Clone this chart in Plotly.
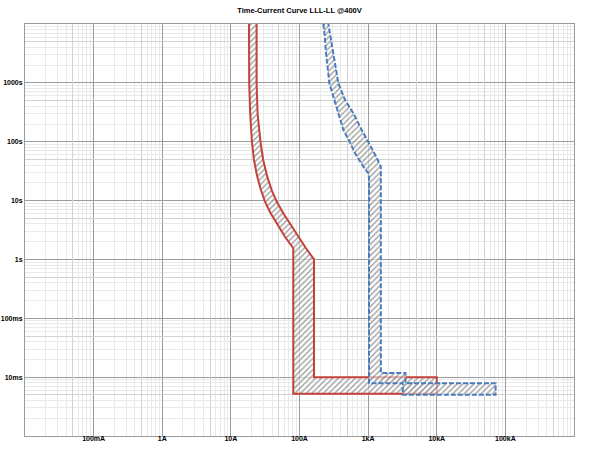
import plotly.graph_objects as go

# Time-current bands (current in A, time in s)
red_min_i = [18.3, 18.3, 18.5, 19.1, 20.3, 21.7, 24.2, 27.4, 31.4, 38.0, 48.1, 61.4, 81.2, 81.2, 10000]
red_min_t = [30000, 10000, 1000, 304, 96, 49, 25.5, 15.1, 9.6, 6.08, 3.85, 2.43, 1.55, 0.0052, 0.0052]
red_max_i = [23.7, 23.7, 23.7, 24.5, 27.1, 29.6, 33.9, 39.3, 46.5, 58.0, 75.1, 96.0, 124.4, 162.8, 162.8, 10000]
red_max_t = [30000, 10000, 1000, 304, 96, 49, 25.5, 15.1, 9.6, 6.08, 3.85, 2.43, 1.55, 1.0, 0.01, 0.01]

blue_min_i = [222.6, 222.6, 233.3, 243.8, 272.3, 368.5, 435.9, 546.3, 646, 854, 1010, 1030, 1030, 3200, 3200, 72000]
blue_min_t = [30000, 10000, 6085, 3178, 983, 304, 158, 96, 63.6, 37.6, 29.1, 23.9, 0.0079, 0.0079, 0.005, 0.005]
blue_max_i = [263.3, 263.3, 285.5, 311.6, 368.5, 461.6, 610, 809, 1010, 1309, 1532, 1532, 3500, 3500, 72000]
blue_max_t = [30000, 10000, 6085, 3178, 983, 511, 304, 158, 96, 55.7, 37.6, 0.0118, 0.0118, 0.0079, 0.0079]

x_tickvals = [0.1, 1, 10, 100, 1000, 10000, 100000]
x_ticktext = ['100mA', '1A', '10A', '100A', '1kA', '10kA', '100kA']
y_tickvals = [0.01, 0.1, 1, 10, 100, 1000]
y_ticktext = ['10ms', '100ms', '1s', '10s', '100s', '1000s']

x_range = [-2, 6]
y_range = [-3, 4]

red = '#c4413c'
blue = '#4a7cbd'


def band(min_i, min_t, max_i, max_t):
    # closed outline: min curve down, max curve back up
    return min_i + max_i[::-1], min_t + max_t[::-1]


hatch = dict(shape='/', fgcolor='#3a3a3a', bgcolor='rgba(255,255,255,0.6)', size=4, solidity=0.33)

fig = go.Figure()

bx, by = band(red_min_i, red_min_t, red_max_i, red_max_t)
fig.add_trace(go.Scatter(
    x=bx, y=by, mode='lines', fill='toself', fillcolor='rgba(255,255,255,0.6)',
    fillpattern=hatch, line=dict(color=red, width=2),
    hoverinfo='skip', showlegend=False
))

bx, by = band(blue_min_i, blue_min_t, blue_max_i, blue_max_t)
fig.add_trace(go.Scatter(
    x=bx, y=by, mode='lines', fill='toself', fillcolor='rgba(255,255,255,0.6)',
    fillpattern=hatch, line=dict(color=blue, width=2, dash='5px,2px'),
    hoverinfo='skip', showlegend=False
))

# invisible trace on overlay axes for the 5x gridlines
fig.add_trace(go.Scatter(x=[1], y=[1], xaxis='x2', yaxis='y2', mode='markers',
                         marker=dict(opacity=0), hoverinfo='skip', showlegend=False))

tick_font = dict(family='Liberation Sans, Arial, sans-serif', size=7, color='#000', weight='bold')

fig.update_layout(
    width=600, height=465,
    margin=dict(l=25, r=26, t=24, b=29),
    paper_bgcolor='white', plot_bgcolor='white',
    title=dict(text='Time-Current Curve LLL-LL @400V', x=(25 + 574) / 2 / 600, xanchor='center',
               y=1 - 10 / 465, yanchor='middle',
               font=dict(family='Liberation Sans, Arial, sans-serif', size=7.5,
                         color='#000', weight='bold')),
    xaxis=dict(type='log', range=x_range, tickvals=x_tickvals, ticktext=x_ticktext,
               showgrid=True, gridcolor='#9c9c9c', gridwidth=1, zeroline=False,
               showline=True, linecolor='#9a9a9a', linewidth=1, mirror=True,
               ticks='', ticklen=0, tickfont=tick_font, automargin=False,
               ticklabelstandoff=-4,
               minor=dict(dtick='D1', showgrid=True, gridcolor='#e9e9e9', gridwidth=1)),
    yaxis=dict(type='log', range=y_range, tickvals=y_tickvals, ticktext=y_ticktext,
               showgrid=True, gridcolor='#9c9c9c', gridwidth=1, zeroline=False,
               showline=True, linecolor='#9a9a9a', linewidth=1, mirror=True,
               ticks='', ticklen=0, tickfont=tick_font, automargin=False,
               minor=dict(dtick='D1', showgrid=True, gridcolor='#e9e9e9', gridwidth=1)),
    xaxis2=dict(type='log', range=x_range, overlaying='x', side='bottom',
                tickvals=[5 * v / 10 for v in [0.1] + x_tickvals + [1000000]],
                showticklabels=False, showgrid=True, gridcolor='#d2d2d2',
                zeroline=False, automargin=False),
    yaxis2=dict(type='log', range=y_range, overlaying='y', side='left',
                tickvals=[5 * v / 10 for v in [0.001, 0.01] + y_tickvals[1:] + [10000]],
                showticklabels=False, showgrid=True, gridcolor='#d2d2d2',
                zeroline=False, automargin=False),
)

# drop the default page margin so the figure sits at the window corner
fig.write_html('out.html', config={'displayModeBar': False},
               post_script="document.body.style.margin='0';")
